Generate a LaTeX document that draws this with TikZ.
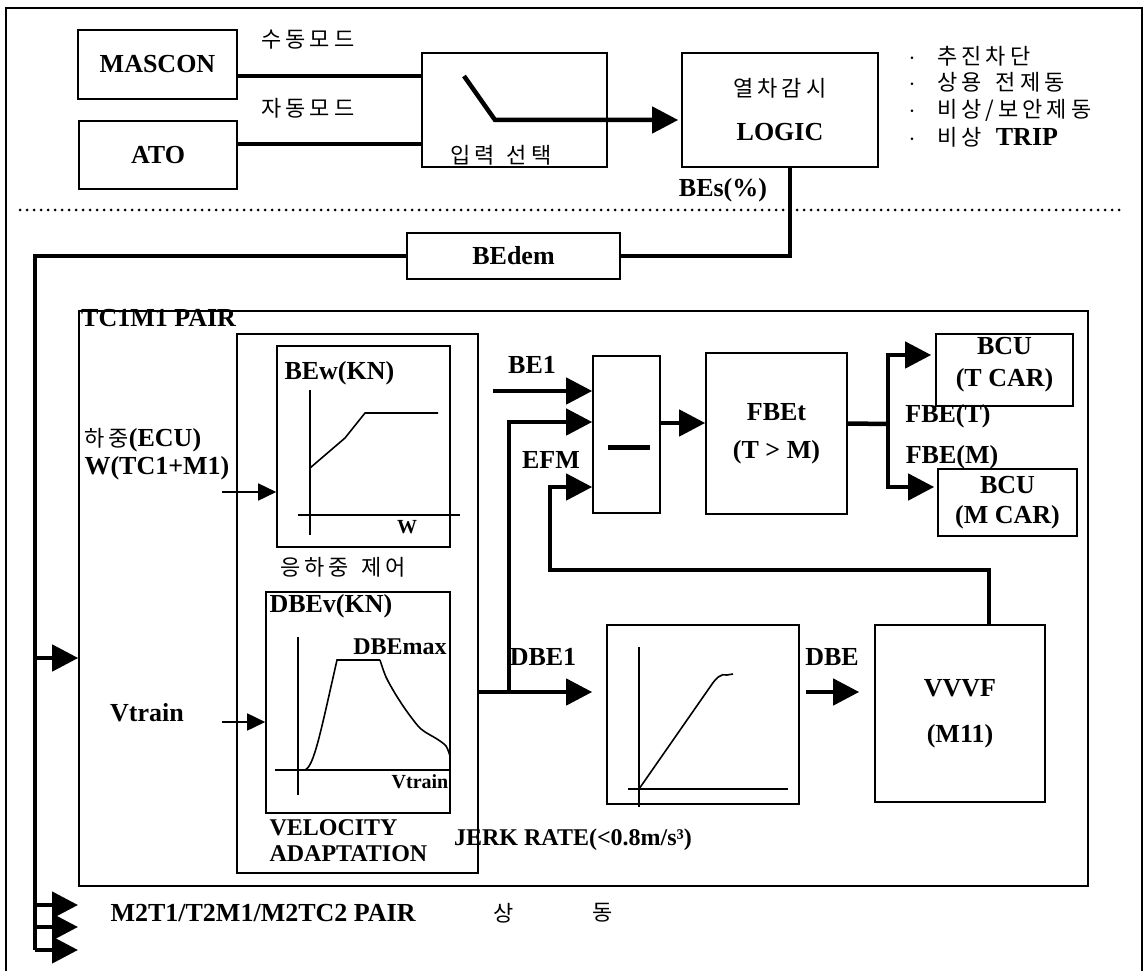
\documentclass[tikz,border=0pt]{standalone}
\usepackage{fontspec}
\setmainfont{Liberation Serif}
\newfontfamily\krfont[LetterSpace=18]{Noto Sans CJK KR}
\usetikzlibrary{arrows.meta}
\newcommand\kr{\krfont\mdseries\fontsize{22}{26}\selectfont}
\newcommand\lbl{\fontsize{26}{30}\selectfont\bfseries}
\newcommand\sml{\fontsize{24}{28}\selectfont\bfseries}
\newcommand\tny{\fontsize{20}{24}\selectfont\bfseries}

\begin{document}
\begin{tikzpicture}[x=1pt, y=-1pt, every node/.style={font=\lbl},
    blk/.style={draw, line width=1.6pt, inner sep=0pt},
    bus/.style={line width=4.5pt},
    thinl/.style={line width=1.6pt},
    bigarrow/.style={-{Triangle[length=26pt,width=26pt]}},
    smallarrow/.style={-{Triangle[length=18pt,width=17pt]}}]
  \useasboundingbox (0,0) rectangle (1144,971);

  % outer frame and separator
  \draw[thinl] (6,971) -- (6,8) -- (1142,8) -- (1142,971);
  \draw[line width=3pt, line cap=round, dash pattern=on 0pt off 7pt] (20,210) -- (1123,210);

  % mode selection
  \node[blk, minimum width=159pt, minimum height=69pt] (mascon) at (157.5,64.5) {MASCON};
  \node[blk, minimum width=158pt, minimum height=68pt] (ato)    at (158,155)    {ATO};
  \node[blk, minimum width=185pt, minimum height=114pt] (sel)   at (514.5,110)  {};
  \node[blk, minimum width=196pt, minimum height=114pt, align=center] (logic) at (780,110)
      {{\kr 열차감시}\\[14pt]LOGIC};
  \node (manual) at (308,40)  {\kr 수동모드};
  \node (auto)   at (308,108) {\kr 자동모드};
  \node (seltxt) at (501,155) {\kr 입력\hspace{12pt}선택};
  \node (bes) at (723,190) {BEs(\%)};
  \node[anchor=west] (b1) at (905,56)  {$\cdot$\hspace{22pt}{\kr 추진차단}};
  \node[anchor=west] (b2) at (905,82)  {$\cdot$\hspace{22pt}{\kr 상용\hspace{14pt}전제동}};
  \node[anchor=west] (b3) at (905,110) {$\cdot$\hspace{22pt}{\kr 비상/보안제동}};
  \node[anchor=west] (b4) at (905,137) {$\cdot$\hspace{22pt}{\kr 비상}\hspace{14pt}TRIP};

  \coordinate (swa) at (464,76);
  \coordinate (swb) at (495,120);
  \draw[bus] ([yshift=-11.5pt]mascon.east) -- ([yshift=-11.5pt]mascon.east -| sel.west);
  \draw[bus] ([yshift=11pt]ato.east) -- ([yshift=11pt]ato.east -| sel.west);
  \draw[bus, bigarrow, shorten >=3pt] (swa) -- (swb) -- (swb -| logic.west);

  % demand bus
  \node[blk, minimum width=213pt, minimum height=46pt] (bedem) at (513.5,256) {BEdem};
  \coordinate (busTop) at (35,256);
  \coordinate (busBot) at (35,950);
  \draw[bus] ([xshift=10pt]logic.south) |- (bedem.east);
  \draw[bus] (bedem.west) -- (busTop) -- (busBot);

  % TC1M1 pair
  \node[blk, minimum width=1009pt, minimum height=575pt] (pair) at (583.5,598.5) {};
  \node[anchor=north west, inner sep=0pt] (pairlbl) at (81,309) {TC1M1 PAIR};
  \coordinate (tapA) at (35,658);
  \draw[bus, bigarrow] (tapA) -- (tapA -| pair.west);

  % load and velocity adaptation
  \node[blk, minimum width=241pt, minimum height=539pt] (wbox)   at (357.5,603.5) {};
  \node[blk, minimum width=173pt, minimum height=201pt] (chartw) at (363.5,446.5) {};
  \node[blk, minimum width=184pt, minimum height=221pt] (chartv) at (358,702.5)   {};
  \node[anchor=west] (bew) at (281,373) {BEw(KN)};
  \draw[thinl] (310,390) -- (310,535);
  \draw[thinl] (298,515) -- (460,515);
  \draw[thinl] (310,468) -- (345,438) -- (365,413) -- (438,413);
  \node[font=\tny] (wax) at (407,527) {W};
  \node (wctl) at (343,567) {\kr 응하중\hspace{12pt}제어};
  \node[anchor=west] (dbev) at (266,606) {DBEv(KN)};
  \node[font=\sml] (dbemax) at (400,647) {DBEmax};
  \draw[thinl] (298,637) -- (298,795);
  \draw[thinl] (275,770) -- (450,770);
  \draw[thinl] (305,770) .. controls (314,766) and (320,735) .. (337,660) -- (380,660)
      plot[smooth] coordinates {(380,660) (386,677) (396,695) (408,713) (421,729) (437,739) (446,746) (450,756)};
  \node[font=\tny] (vax) at (420,782) {Vtrain};
  \node[anchor=west, font=\sml] (vel) at (266,828) {VELOCITY};
  \node[anchor=west, font=\sml] (adp) at (266,854) {ADAPTATION};

  \node[anchor=west] (load1) at (81,440) {{\kr 하중}(ECU)};
  \node[anchor=west] (load2) at (81,468) {W(TC1+M1)};
  \node (vin) at (147,713) {Vtrain};
  \coordinate (loadin) at (222,492);
  \coordinate (velin)  at (222,722);
  \draw[thinl, smallarrow] (loadin) -- (loadin -| chartw.west);
  \draw[thinl, smallarrow] (velin) -- (velin -| chartv.west);

  % force comparison
  \node[blk, minimum width=67pt,  minimum height=157pt] (minus) at (626.5,434.5) {};
  \draw[line width=5pt] (608,447) -- (650,447);
  \node[blk, minimum width=141pt, minimum height=161pt, align=center] (fbet) at (776.5,433.5)
      {FBEt\\[8pt](T > M)};
  \node[blk, minimum width=137pt, minimum height=72pt, align=center] (bcut) at (1004.5,370)
      {BCU\\[2pt](T CAR)\rule[-16pt]{0pt}{16pt}};
  \node[blk, minimum width=139pt, minimum height=67pt, align=center] (bcum) at (1007.5,502.5)
      {BCU\\[0pt](M CAR)};
  \node (fbeT) at (948,416) {FBE(T)};
  \node (fbeM) at (952,457) {FBE(M)};
  \node (be1lbl) at (532,365) {BE1};
  \node (efmlbl) at (551,460) {EFM};

  \coordinate (be1) at (493,391);
  \coordinate (j1) at (509,692);
  \coordinate (fb) at (550,570);
  \coordinate (fsplit) at (888,424);
  \draw[bus, bigarrow] (be1) -- (be1 -| minus.west);
  \draw[bus, bigarrow] (j1) |- ([yshift=12.5pt]minus.west);
  \draw[bus, bigarrow] ([yshift=11.5pt]minus.east) -- ([yshift=11.5pt]minus.east -| fbet.west);
  \draw[bus] ([yshift=10pt]fbet.east) -- (fsplit);
  \draw[bus, bigarrow, shorten >=4pt] (fsplit) |- ([yshift=15pt]bcut.west);
  \draw[bus, bigarrow, shorten >=3pt] (fsplit) |- ([yshift=15.5pt]bcum.west);

  % jerk limit and inverter
  \node[blk, minimum width=192pt, minimum height=179pt] (jerk) at (703,714.5) {};
  \draw[thinl] (639,647) -- (639,807);
  \draw[thinl] (628,789) -- (788,789);
  \draw[thinl] (639,789) -- (710,687) .. controls (716,678) and (721,673) .. (727,675) -- (733,674);
  \node[font=\sml] (jerklbl) at (573,840) {JERK RATE(<0.8m/s³)};
  \node[blk, minimum width=170pt, minimum height=177pt, align=center] (vvvf) at (960,713.5)
      {VVVF\\[16pt](M11)};
  \node (dbe1lbl) at (543,657) {DBE1};
  \node (dbelbl) at (832,657) {DBE};
  \draw[bus, bigarrow, shorten >=14pt] (wbox.east |- j1) -- (j1 -| jerk.west);
  \draw[bus, bigarrow, shorten <=6pt, shorten >=15pt] ([yshift=22.5pt]jerk.east) -- ([yshift=22.5pt]jerk.east -| vvvf.west);
  \draw[bus, bigarrow] ([xshift=29pt]vvvf.north) |- (fb) |- ([yshift=-52.5pt]minus.west);

  % other pairs
  \foreach \y/\n in {905/1,927/2,950/3}
    \draw[bus, bigarrow] (busTop |- 0,\y) coordinate (tap\n) -- (78,\y);
  \node[anchor=west] (others) at (107,913) {M2T1/T2M1/M2TC2 PAIR};
  \node (same1) at (504,913) {\kr 상};
  \node (same2) at (603,913) {\kr 동};
\end{tikzpicture}
\end{document}
